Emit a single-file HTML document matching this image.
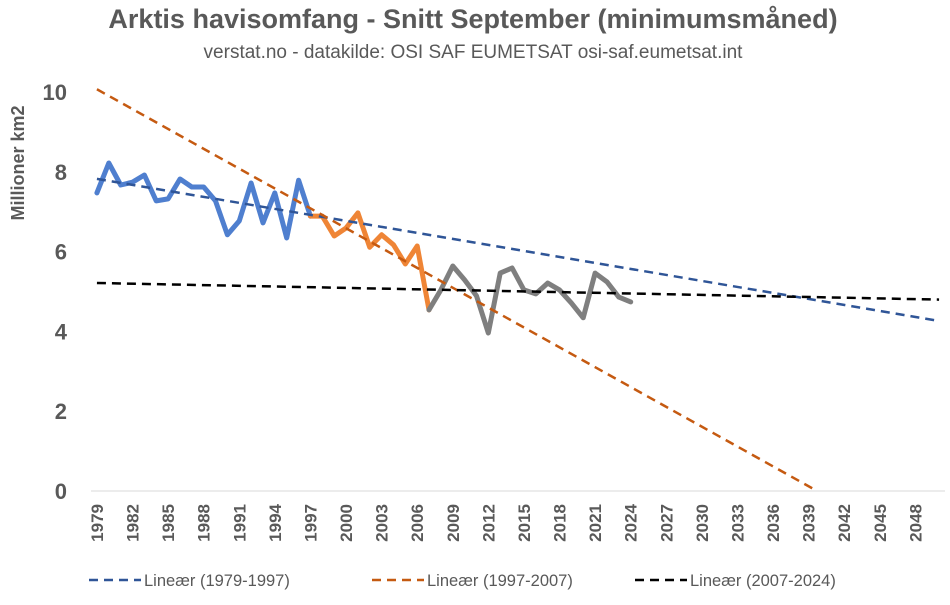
<!DOCTYPE html>
<html><head><meta charset="utf-8">
<style>
body{margin:0;background:#fff;width:950px;height:600px;overflow:hidden;font-family:"Liberation Sans",Arial,sans-serif;}
svg text{font-family:"Liberation Sans",Arial,sans-serif;fill:#595959;}
</style></head>
<body>
<svg id="chart" width="950" height="600" viewBox="0 0 950 600" xmlns="http://www.w3.org/2000/svg">
<text x="473" y="28" text-anchor="middle" font-size="27" font-weight="bold">Arktis havisomfang - Snitt September (minimumsmåned)</text>
<text x="473" y="58" text-anchor="middle" font-size="19">verstat.no - datakilde: OSI SAF EUMETSAT osi-saf.eumetsat.int</text>
<text transform="translate(24,163) rotate(-90)" text-anchor="middle" font-size="18" font-weight="bold">Millioner km2</text>
<g id="axes"></g>
<g id="series"></g>
<g id="legend"></g>
</svg>
<script>
const startYear = 1979;
const endYear = 2050;
const yTicks = [0, 2, 4, 6, 8, 10];
const years1 = [1979,1980,1981,1982,1983,1984,1985,1986,1987,1988,1989,1990,1991,1992,1993,1994,1995,1996,1997];
const vals1 = [7.47,8.22,7.67,7.74,7.92,7.27,7.32,7.82,7.62,7.62,7.27,6.42,6.77,7.72,6.72,7.47,6.34,7.79,6.89];
const years2 = [1997,1998,1999,2000,2001,2002,2003,2004,2005,2006,2007];
const vals2 = [6.89,6.89,6.39,6.59,6.97,6.11,6.42,6.17,5.69,6.14,4.54];
const years3 = [2007,2008,2009,2010,2011,2012,2013,2014,2015,2016,2017,2018,2019,2020,2021,2022,2023,2024];
const vals3 = [4.54,5.04,5.64,5.29,4.89,3.96,5.46,5.59,5.04,4.94,5.21,5.04,4.71,4.34,5.46,5.24,4.86,4.74];
const legendLabels = ["Lineær (1979-1997)","Lineær (1997-2007)","Lineær (2007-2024)"];

const NS="http://www.w3.org/2000/svg";
const pLeft=91, pRight=945, pTop=92, pBottom=491, yMax=10;
const nCat=endYear-startYear+1, cw=(pRight-pLeft)/nCat;
const X=y=>pLeft+(y-startYear+0.5)*cw;
const Y=v=>pBottom-v/yMax*(pBottom-pTop);
function mk(tag,attrs,parent){const e=document.createElementNS(NS,tag);for(const k in attrs)e.setAttribute(k,attrs[k]);parent.appendChild(e);return e;}
const axesG=document.getElementById('axes'), ser=document.getElementById('series'), leg=document.getElementById('legend');

const ax=mk('line',{x1:pLeft,x2:pRight,y1:pBottom,y2:pBottom,stroke:'#d9d9d9','stroke-width':1},axesG);


yTicks.forEach(t=>{
  const tx=mk('text',{x:67,y:Y(t)+8,'text-anchor':'end','font-size':22,'font-weight':'bold'},axesG);
  tx.textContent=t;
  
  
});
for(let yr=startYear;yr<=endYear;yr+=3){
  const x=X(yr);
  const tx=mk('text',{transform:`translate(${x+6},504) rotate(-90)`,'text-anchor':'end','font-size':17,'font-weight':'bold'},axesG);
  tx.textContent=yr;
  
  
}

function poly(ys,vs){return ys.map((y,i)=>X(y).toFixed(1)+','+Y(vs[i]).toFixed(1)).join(' ');}
function fit(ys,vs){const n=ys.length;const mx=ys.reduce((a,b)=>a+b)/n,my=vs.reduce((a,b)=>a+b)/n;let sxy=0,sxx=0;ys.forEach((x,i)=>{sxy+=(x-mx)*(vs[i]-my);sxx+=(x-mx)*(x-mx);});const m=sxy/sxx;return x=>my+m*(x-mx);}
function trend(ys,vs,color,name){
  const f=fit(ys,vs);
  let x1=startYear,x2=endYear;
  let v1=f(x1),v2=f(x2);
  if(v2<0){x2=x1+(0-v1)/(v2-v1)*(x2-x1);v2=0;}
  const l=mk('line',{x1:X(x1),y1:Y(v1),x2:X(x2),y2:Y(v2),stroke:color,'stroke-width':2.5,'stroke-dasharray':'9,6'},ser);
  
  
}
function line(ys,vs,color,name){
  const p=mk('polyline',{points:poly(ys,vs),fill:'none',stroke:color,'stroke-width':5,'stroke-linejoin':'round','stroke-linecap':'round'},ser);
  
  
}
line(years1,vals1,'#4f7fcf','series-1979-1997');
line(years2,vals2,'#ef8536','series-1997-2007');
line(years3,vals3,'#7f7f7f','series-2007-2024');
trend(years1,vals1,'#2f5597','trend-1979-1997');
trend(years2,vals2,'#c55a11','trend-1997-2007');
trend(years3,vals3,'#000000','trend-2007-2024');

const legColors=['#2f5597','#c55a11','#000000'];
const legX=[89,372,635];
legendLabels.forEach((lb,i)=>{
  const g=mk('g',{},leg);
  
  
  mk('line',{x1:legX[i],x2:legX[i]+52,y1:580,y2:580,stroke:legColors[i],'stroke-width':2.5,'stroke-dasharray':'9,6'},g);
  const t=mk('text',{x:legX[i]+55,y:586,'font-size':16.5},g);
  t.textContent=lb;
});
</script>
</body></html>
